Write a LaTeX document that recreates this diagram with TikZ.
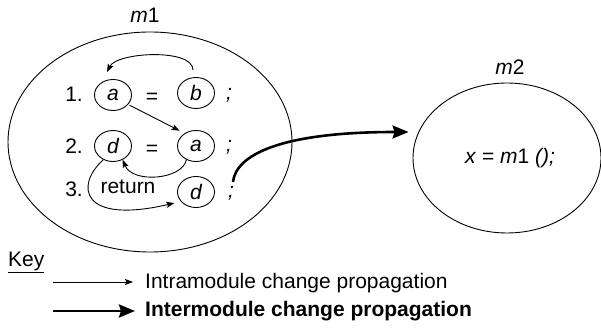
\documentclass[tikz,border=0pt]{standalone}
\usepackage{fontspec}
\setmainfont{Liberation Sans}
\usetikzlibrary{arrows.meta,shapes.geometric}
\begin{document}
\begin{tikzpicture}[x=1pt,y=-1pt,
  txt/.style={inner sep=0pt,font=\fontsize{21}{25}\selectfont},
  var/.style={ellipse,draw,line width=0.9pt,inner sep=0pt,minimum width=37pt,minimum height=31pt,font=\fontsize{21}{25}\selectfont\itshape},
  thin/.style={line width=0.9pt,-{Stealth[length=8pt,width=6pt,inset=1.5pt]}},
  thick/.style={line width=2.6pt,-{Stealth[length=16pt,width=13pt,inset=2pt]}},
  module/.style={ellipse,draw,line width=0.9pt}]
\useasboundingbox (0,0) rectangle (601,328);
% modules
\node[module,minimum width=284pt,minimum height=220pt] (m1) at (150,142) {};
\node[module,minimum width=188pt,minimum height=150pt] (m2) at (507,158) {};
\node[txt] (m1l) at (145,15) {\textit{m}1};
\node[txt] (m2l) at (510,67) {\textit{m}2};
\node[txt] (call) at (510,158) {\textit{x} = \textit{m}1 \textit{();}};
% row 1
\node[txt,anchor=east] (n1) at (83,94) {1.};
\node[var] (a1) at (113,95) {a};
\node[txt] (eq1) at (152,98) {=};
\node[var] (b1) at (196,93) {b};
\node[txt] (s1) at (229,95) {\textit{;}};
% row 2
\node[txt,anchor=east] (n2) at (83,146) {2.};
\node[var] (d2) at (113,146) {d};
\node[txt] (eq2) at (152,150) {=};
\node[var] (a2) at (196,146) {a};
\node[txt] (s2) at (229,147) {\textit{;}};
% row 3
\node[txt,anchor=east] (n3) at (83,189) {3.};
\node[txt] (ret) at (128,187) {return};
\node[var] (d3) at (196,192) {d};
\node[txt] (s3) at (231,193) {\textit{;}};
% intramodule arrows
\coordinate (b1t) at ([xshift=-3pt,yshift=7pt]b1.north);
\coordinate (a1t) at ([xshift=-6pt,yshift=7pt]a1.north);
\draw[thin] (b1t) .. controls ([yshift=22pt]b1t) and ([xshift=10pt,yshift=20pt]a1t) .. (a1t);
\draw[thin] ([xshift=2pt]a1.-35) -- ([xshift=-3pt,yshift=4pt]a2.north west);
\draw[thin] (a2.-125) .. controls ([xshift=-4pt,yshift=-20pt]a2.-125) and ([xshift=10pt,yshift=-24pt]d2.-55) .. (d2.-55);
\draw[thin] (d2.-125) .. controls (75,185) and (80,225) .. ([xshift=-6pt,yshift=-2pt]d3.-150);
% intermodule arrow
\draw[thick] ([xshift=2pt,yshift=4pt]s3.north) .. controls (236,155) and (280,132) .. ([xshift=-4pt,yshift=26pt]m2.west);
% key
\node[txt,anchor=west] (key) at (8,262) {\underline{Key}};
\coordinate (k1s) at (53,282);
\coordinate (k1e) at (133,282);
\coordinate (k2s) at (53,311);
\coordinate (k2e) at (135,311);
\draw[thin] (k1s) -- (k1e);
\draw[thick] (k2s) -- (k2e);
\node[txt,anchor=west] (l1) at (145,283) {Intramodule change propagation};
\node[txt,anchor=west] (l2) at (145,311) {\textbf{Intermodule change propagation}};
\end{tikzpicture}
\end{document}
